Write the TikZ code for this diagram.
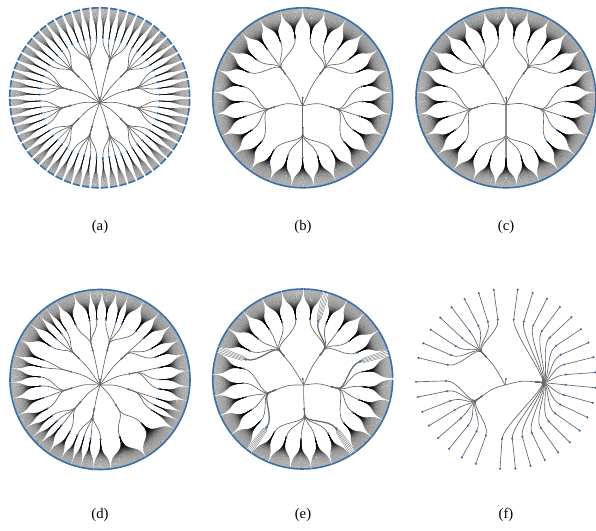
\documentclass[tikz,border=0pt]{standalone}
\usepackage{fontspec}
\setmainfont{Liberation Serif}
\definecolor{rimblue}{RGB}{58,112,165}

\newcommand{\leafgap}{0.45}
\newcommand{\stem}[1]{%
    \draw[linkline] (hub) .. controls (#1:16) .. (#1:30);
    \fill[dotfill] (#1:30) circle (1.2);
}
\newcommand{\fan}[4]{%
    \pgfmathsetmacro{\lo}{#3+0.3}
    \pgfmathsetmacro{\hi}{#4-0.3}
    \pgfmathtruncatemacro{\nleaf}{max(round((\hi-\lo)/\leafgap),1)}
    \foreach \k [evaluate=\k as \la using \lo+(\hi-\lo)*\k/\nleaf] in {0,...,\nleaf}
        {\draw[leafline] (#2:60) .. controls (#2:80) and (\la:72) .. (\la:90);}
    \draw[linkline] (#1:30) -- (#1:35.5) .. controls (#1:45) and (#2:47) .. (#2:60);
    \fill[dotfill] (#2:60) circle (1.2);
    \draw[rimline] (#3:90) arc[start angle=#3, end angle=#4, radius=90];
}
\newcommand{\stripe}[2]{%
    \foreach \k in {-2,...,2}
        {\draw[stripeline] (#2:60) -- (#2+\k:64) -- (#2+\k:90);}
    \draw[linkline, line width=0.9pt] (#1:30) -- (#1:35.5) .. controls (#1:45) and (#2:47) .. (#2:60);
    \fill[dotfill] (#2:60) circle (1.5);
    \draw[rimline] (#2-2:90) arc[start angle=#2-2, end angle=#2+2, radius=90];
}
\newcommand{\wheel}[5]{%
    \foreach \i in {1,...,#1} {
        \pgfmathsetmacro{\pa}{#3+360/#1*\i}
        \stem{\pa}
        \foreach \j in {1,...,#2} {
            \pgfmathsetmacro{\ca}{\pa+(\j-(#2+1)/2)*#4}
            \pgfmathsetmacro{\cl}{\ca-#5}
            \pgfmathsetmacro{\ch}{\ca+#5}
            \fan{\pa}{\ca}{\cl}{\ch}
        }
    }
}
\newcommand{\twig}[2]{%
    \draw[linkline] (#1:30) -- (#1:35.5) .. controls (#1:45) and (#2:47) .. (#2:60) -- (#2:90);
    \fill[dotfill] (#2:60) circle (1.2);
    \fill[dotfill] (#2:90) circle (1.2);
}

\begin{document}
\begin{tikzpicture}[x=0.75pt, y=0.75pt,
    leafline/.style={black, line width=0.3pt, draw opacity=0.45},
    stripeline/.style={black!50, line width=0.3pt},
    linkline/.style={black!60, line width=0.5pt},
    rimline/.style={rimblue, line width=1.2pt},
    dotfill/.style={fill=rimblue},
    caption/.style={font=\fontsize{11}{13}\selectfont}]
    \useasboundingbox (0,0) rectangle (596,531);

    % (a)
    \begin{scope}[shift={(99.7,433.2)}]
        \coordinate (hub) at (0,-5);
        \fill[dotfill] (0,0) circle (1.2);
        \draw[linkline] (0,0) -- (hub);
        \wheel{12}{5}{-15}{6}{2.4}
    \end{scope}

    % (b)
    \begin{scope}[shift={(302.7,433.2)}]
        \coordinate (hub) at (0,-8);
        \fill[dotfill] (0,0) circle (1.2);
        \draw[linkline] (0,0) -- (hub);
        \wheel{5}{5}{-162}{14.4}{7.2}
    \end{scope}

    % (c)
    \begin{scope}[shift={(506,433.2)}]
        \coordinate (hub) at (0,-7);
        \fill[dotfill] (0,0) circle (1.2);
        \draw[linkline] (0,0) -- (hub);
        \wheel{5}{5}{-162}{14.4}{7.2}
        \draw[linkline, line width=0.9pt, black!45] (hub) -- (-90:58);
    \end{scope}

    % (d)
    \begin{scope}[shift={(100,151.5)}]
        \coordinate (hub) at (0,-5.6);
        \fill[dotfill] (0,0) circle (1.2);
        \draw[linkline] (0,0) -- (hub);
        \foreach \pa in {104,76,44,11,-19,-58,-101,-131,197,165,135} {\stem{\pa}}
        \foreach \pa/\ca/\cl/\ch in {
            76/84.3/79.4/88.6, 76/74.5/71.4/79.4, 76/68.3/60.8/71.4, 76/53.3/48.3/60.8,
            44/43.4/37.2/48.3, 44/31/26.5/37.2, 44/22/16.7/26.5,
            11/11.4/5.7/16.7, 11/0/-4.5/5.7, 11/-9/-13.7/-4.5,
            -19/-18.5/-21.7/-13.7, -19/-25/-27.8/-21.7, -19/-30.7/-33.7/-27.8,
            -58/-46.6/-59.5/-33.7, -58/-71/-83/-59.5,
            -101/-89.4/-94.2/-83, -101/-99/-102.3/-94.2, -101/-105.6/-108.8/-102.3, -101/-112/-116/-108.8,
            -131/-120/-125/-116, -131/-130/-133/-125, -131/-136/-139.5/-133, -131/-143/-147/-139.5,
            197/-151/-156.5/-147, 197/-162/-167.8/-156.5, 197/-173.7/-178.1/-167.8, 197/177.5/172.7/181.9,
            165/168/164.5/172.7, 165/161/153.5/164.5,
            135/146/141.5/153.5, 135/137/133.5/141.5, 135/130/127.3/133.5, 135/124.6/119.3/127.3,
            104/114/107/119.3, 104/100/96.5/107, 104/93/88.6/96.5} {\fan{\pa}{\ca}{\cl}{\ch}}
    \end{scope}

    % (e)
    \begin{scope}[shift={(302.7,152)}]
        \coordinate (hub) at (1,-6);
        \fill[dotfill] (0,0) circle (1.2);
        \draw[linkline] (0,0) -- (hub);
        \foreach \pa in {54,-15,-87,202,129} {\stem{\pa}}
        \foreach \pa/\ca/\cl/\ch in {
            54/83/77.2/89.5, 54/67/60.5/72.8, 54/53.6/47/60.3, 54/39.3/32.7/46.8, 54/26/19.2/32.5,
            -15/7/0.5/14.8, -15/-7.3/-14/-0.4, -15/-20.3/-27/-14.2, -15/-33.7/-40/-27.2, -15/-47/-53.8/-40.2,
            -87/-65/-71/-58.2, -87/-78/-84.5/-71.2, -87/-91.6/-98/-84.7, -87/-105.8/-112.5/-98.2, -87/-118/-124.5/-112.7,
            202/225/218/231.1, 202/211/204/217.8, 202/197.6/190.8/203.8, 202/184/177/190.6, 202/170/163.2/176.8,
            129/152/146/158.8, 129/138/131.5/145.8, 129/124/117/131.3, 129/110/103.7/116.8, 129/96.5/89.7/103.5} {\fan{\pa}{\ca}{\cl}{\ch}}
        \foreach \pa/\ca in {54/75, -15/17, -87/-56, 202/233.3, 129/161} {\stripe{\pa}{\ca}}
    \end{scope}

    % (f)
    \begin{scope}[shift={(506,152)}]
        \coordinate (hub) at (-1,-6);
        \fill[dotfill] (0,0) circle (1.2);
        \draw[linkline] (0,0) -- (hub);
        \foreach \pa in {132,-144.5,-5.6} {\stem{\pa}}
        \foreach \i in {0,...,18} {
            \pgfmathsetmacro{\ca}{82.6-9.8*\i}
            \twig{-5.6}{\ca}
        }
        \foreach \i in {0,...,7} {
            \pgfmathsetmacro{\ca}{-109.6-9.8*\i}
            \twig{-144.5}{\ca}
            \pgfmathsetmacro{\ca}{166.4-9.8*\i}
            \twig{132}{\ca}
        }
    \end{scope}

    \node[caption] (capA) at (100,304) {(a)};
    \node[caption] (capB) at (303,304) {(b)};
    \node[caption] (capC) at (506,304) {(c)};
    \node[caption] (capD) at (100,16) {(d)};
    \node[caption] (capE) at (303,16) {(e)};
    \node[caption] (capF) at (506,16) {(f)};
\end{tikzpicture}
\end{document}
